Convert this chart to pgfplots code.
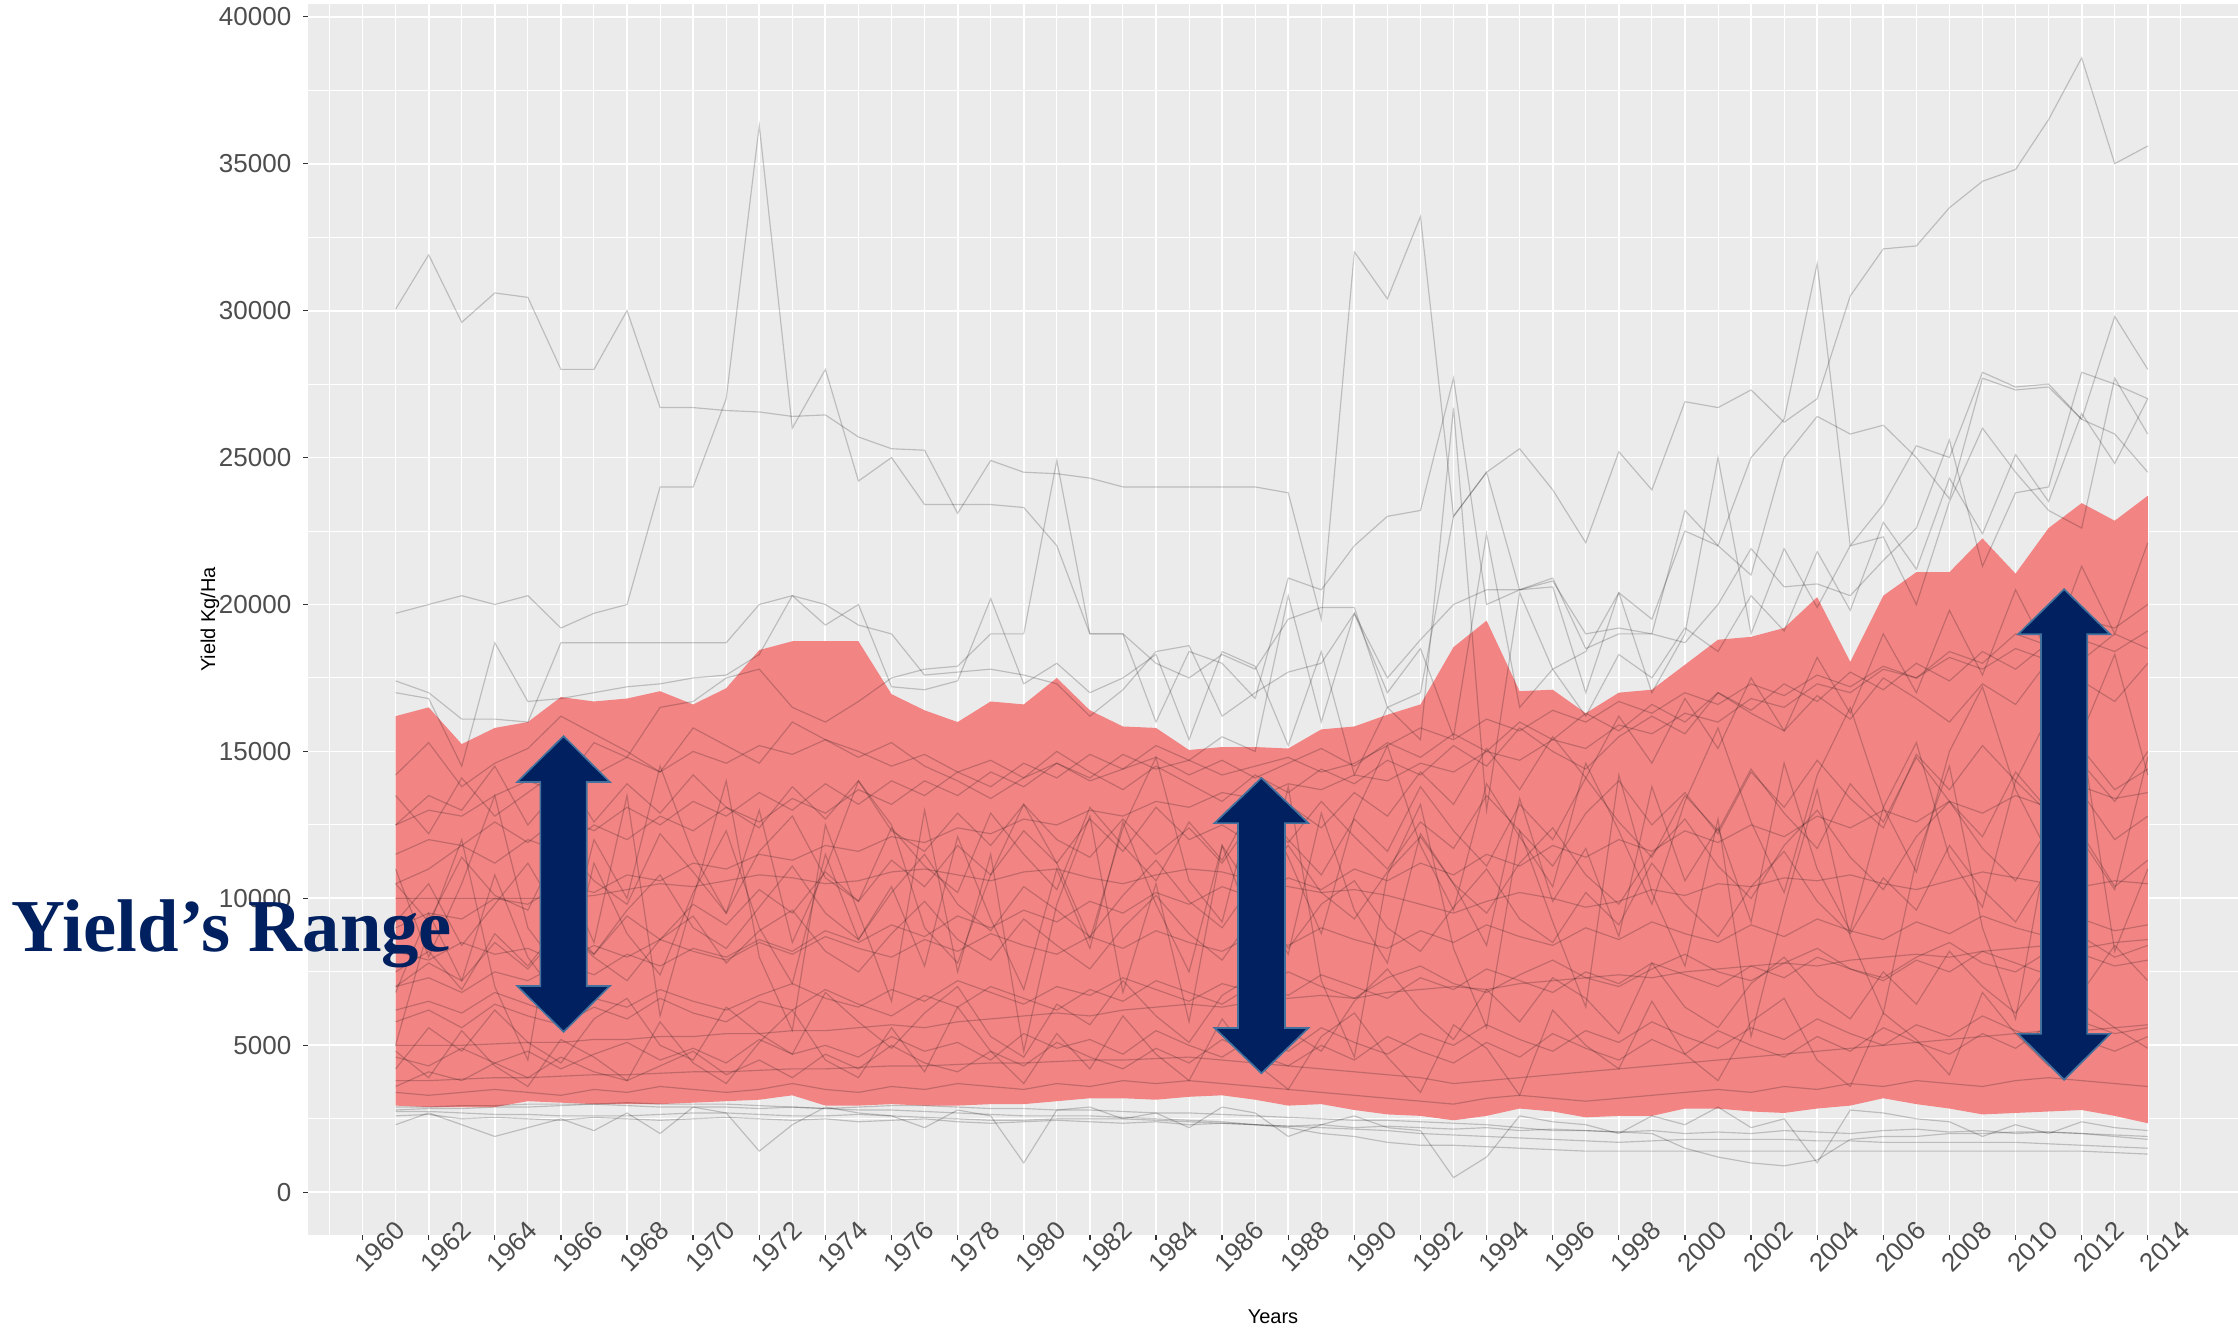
\documentclass[border=0pt]{standalone}
\usepackage{fontspec}
\setmainfont{Liberation Sans}
\newfontfamily\tnr{Liberation Serif}
\usepackage{pgfplots}
\usepackage{pgfplotstable}
\pgfplotsset{compat=1.18}
\usepgfplotslibrary{fillbetween}

\definecolor{panel}{HTML}{EBEBEB}
\definecolor{band}{RGB}{242,132,132}
\definecolor{navy}{HTML}{002060}
\definecolor{arrowedge}{HTML}{41719C}
\definecolor{ticklab}{HTML}{4D4D4D}
\definecolor{tickcol}{HTML}{333333}

\pgfplotstableset{row sep=\\, header=false}

% year, lowest yield, highest yield (the ribbon)
\pgfplotstableread{
1961 2950 16200\\ 1962 2900 16500\\ 1963 2900 15250\\ 1964 2900 15800\\ 1965 3100 16000\\
1966 3050 16850\\ 1967 3000 16700\\ 1968 3000 16800\\ 1969 3000 17050\\ 1970 3050 16600\\
1971 3100 17150\\ 1972 3150 18450\\ 1973 3300 18750\\ 1974 2950 18750\\ 1975 2950 18750\\
1976 3000 16950\\ 1977 2950 16400\\ 1978 2950 16000\\ 1979 3000 16700\\ 1980 3000 16600\\
1981 3100 17500\\ 1982 3200 16400\\ 1983 3200 15850\\ 1984 3150 15800\\ 1985 3250 15050\\
1986 3300 15150\\ 1987 3150 15150\\ 1988 2950 15100\\ 1989 3000 15750\\ 1990 2800 15850\\
1991 2650 16250\\ 1992 2600 16600\\ 1993 2450 18550\\ 1994 2600 19450\\ 1995 2850 17050\\
1996 2750 17100\\ 1997 2550 16300\\ 1998 2600 17000\\ 1999 2600 17100\\ 2000 2850 17950\\
2001 2850 18800\\ 2002 2750 18900\\ 2003 2700 19200\\ 2004 2850 20250\\ 2005 2950 18050\\
2006 3200 20300\\ 2007 3000 21100\\ 2008 2850 21100\\ 2009 2650 22250\\ 2010 2700 21050\\
2011 2750 22600\\ 2012 2800 23450\\ 2013 2600 22850\\ 2014 2350 23700\\
}\band

\begin{document}
\begin{tikzpicture}
\begin{axis}[
  at={(92.4pt,28.8pt)}, anchor=south west,
  width=579pt, height=369.3pt, scale only axis,
  xmin=1958.35, xmax=2016.73, ymin=-1453, ymax=40432,
  axis background/.style={fill=panel},
  axis line style={draw=none},
  xtick={1960,1962,...,2014},
  minor xtick={1959,1961,...,2015},
  ytick={0,5000,...,40000},
  minor ytick={2500,7500,...,37500},
  grid=both,
  major grid style={white, line width=0.55pt},
  minor grid style={white, line width=0.3pt},
  tick pos=left, tick align=outside,
  major tick length=1.5pt, minor tick length=0pt,
  tick style={tickcol, line width=0.4pt},
  /pgf/number format/assume math mode=true,
  /pgf/number format/1000 sep={},
  scaled y ticks=false,
  ticklabel style={font=\fontsize{7.8}{9}\selectfont, text=ticklab},
  xticklabel style={rotate=45, anchor=center, xshift=2.2pt, yshift=-5.1pt},
  yticklabel style={anchor=east},
  xlabel={Years}, ylabel={Yield Kg/Ha},
  xlabel style={at={(axis description cs:0.5,0)}, anchor=center, yshift=-24.6pt, font=\fontsize{6}{7}\selectfont},
  ylabel style={at={(axis description cs:0,0.5)}, anchor=center, yshift=29.4pt, font=\fontsize{6}{7}\selectfont},
  clip mode=individual,
  gl/.style={black, opacity=0.2, line width=0.35pt},
]
\addplot[name path=hi, draw=none, forget plot] table[x index=0, y index=2]{\band};
\addplot[name path=lo, draw=none, forget plot] table[x index=0, y index=1]{\band};
\addplot[fill=band, draw=none] fill between[of=hi and lo];

% countries above the range
\addplot[gl] table[x expr=\coordindex+1961, y index=0]{
30050\\31900\\29600\\30600\\30450\\28000\\28000\\30000\\26700\\26700\\
26600\\26550\\26400\\26450\\25700\\25300\\25250\\23100\\24900\\24500\\
24450\\24300\\24000\\24000\\24000\\24000\\24000\\23800\\19500\\32000\\
30400\\33200\\23000\\24500\\25300\\23900\\22100\\25200\\23900\\26900\\
26700\\27300\\26200\\27000\\30500\\32100\\32200\\33500\\34400\\34800\\
36500\\38600\\35000\\35600\\};
\addplot[gl] table[x expr=\coordindex+1961, y index=0]{
19700\\20000\\20300\\20000\\20300\\19200\\19700\\20000\\24000\\24000\\
27000\\36300\\26000\\28000\\24200\\25000\\23400\\23400\\23400\\23300\\
22000\\19000\\19000\\16000\\18400\\18000\\16800\\20900\\20500\\22000\\
23000\\23200\\27700\\20000\\20500\\20900\\18500\\19000\\19000\\23200\\
22000\\25000\\26300\\31600\\22000\\23400\\25400\\25000\\27900\\27400\\
27500\\26300\\25800\\24500\\};
\addplot[gl] table[x expr=\coordindex+1961, y index=0]{
17400\\17000\\16100\\16100\\16000\\18700\\18700\\18700\\18700\\18700\\
18700\\20000\\20300\\20000\\19300\\19000\\17600\\17700\\17800\\17600\\
17300\\16200\\17100\\18400\\18600\\16200\\17000\\17700\\18000\\19700\\
17500\\18800\\20000\\20500\\20500\\20800\\19000\\19200\\19000\\18700\\
20000\\21900\\20600\\20700\\20300\\21500\\22600\\25600\\21300\\23800\\
24000\\27900\\27500\\27000\\};
\addplot[gl] table[x expr=\coordindex+1961, y index=0]{
17000\\16800\\14500\\18700\\16700\\16800\\17000\\17200\\17300\\17500\\
17600\\18300\\20300\\19300\\20000\\17200\\17100\\17400\\20200\\17300\\
18000\\17000\\17500\\18300\\15400\\18400\\17900\\15200\\18400\\14200\\
16500\\15400\\26700\\13000\\20400\\17800\\18400\\20400\\17000\\19000\\
25000\\19000\\21900\\19900\\22000\\22300\\20000\\23500\\26000\\24500\\
23200\\22600\\27700\\25800\\};
\addplot[gl] table[x expr=\coordindex+1961, y index=0]{
12500\\13500\\13000\\14500\\12500\\13800\\15300\\14800\\16500\\16700\\
17500\\17800\\16500\\16000\\16700\\17500\\17800\\17900\\19000\\19000\\
24900\\19000\\19000\\18000\\17500\\18300\\17800\\19500\\19900\\19900\\
16500\\17000\\23000\\24500\\20500\\20600\\17000\\20400\\19500\\22500\\
22000\\21000\\25000\\26400\\25800\\26100\\25000\\23600\\27700\\27300\\
27400\\26300\\29800\\28000\\};
\addplot[gl] table[x expr=\coordindex+1961, y index=0]{
11500\\12000\\11800\\12600\\11900\\12800\\12300\\13100\\12500\\13300\\
12800\\13600\\13000\\13900\\13200\\14000\\13500\\14300\\13800\\14600\\
14100\\14900\\14400\\15200\\14700\\15500\\15000\\20300\\16000\\19700\\
17000\\18500\\15500\\22400\\16500\\17800\\16200\\18300\\17500\\19200\\
18400\\20300\\19100\\21800\\19800\\22800\\21200\\24300\\22400\\25100\\
23500\\26500\\24800\\27000\\};

% countries below the range
\addplot[gl] table[x expr=\coordindex+1961, y index=0]{
2750\\2750\\2700\\2650\\2650\\2600\\2600\\2600\\2650\\2700\\
2700\\2650\\2600\\2600\\2650\\2600\\2550\\2500\\2450\\2450\\
2500\\2500\\2500\\2450\\2400\\2350\\2300\\2250\\2200\\2150\\
2100\\2000\\1950\\1900\\1850\\1800\\1750\\1700\\1750\\1800\\
1800\\1800\\1800\\1750\\1750\\1700\\1700\\1700\\1700\\1700\\
1650\\1600\\1550\\1500\\};
\addplot[gl] table[x expr=\coordindex+1961, y index=0]{
2300\\2700\\2300\\1900\\2200\\2500\\2100\\2700\\2000\\2900\\
2700\\1400\\2300\\2900\\2700\\2600\\2200\\2800\\2600\\1000\\
2800\\2900\\2500\\2700\\2200\\2900\\2700\\1900\\2300\\2600\\
2200\\2100\\500\\1200\\2600\\2400\\2300\\2000\\2600\\2300\\
2900\\2200\\2500\\1000\\2800\\2700\\2500\\2400\\1900\\2300\\
2000\\2400\\2200\\2100\\};
\addplot[gl] table[x expr=\coordindex+1961, y index=0]{
2900\\2900\\2950\\2950\\3000\\3000\\3000\\2950\\2900\\2900\\
2900\\2850\\2900\\2850\\2800\\2800\\2750\\2700\\2650\\2600\\
2600\\2600\\2550\\2500\\2450\\2400\\2300\\2200\\2000\\1900\\
1700\\1600\\1600\\1550\\1500\\1450\\1400\\1400\\1400\\1400\\
1400\\1400\\1400\\1400\\1400\\1400\\1400\\1400\\1400\\1400\\
1400\\1400\\1350\\1300\\};
\addplot[gl] table[x expr=\coordindex+1961, y index=0]{
2800\\2850\\2850\\2900\\2900\\2950\\3000\\3050\\3000\\3000\\
3000\\2950\\2900\\2850\\2900\\2950\\2950\\2900\\2850\\2850\\
2800\\2800\\2750\\2700\\2700\\2650\\2600\\2550\\2500\\2450\\
2450\\2400\\2350\\2300\\2200\\2100\\2100\\2050\\2000\\1500\\
1200\\1000\\900\\1100\\1800\\1900\\1900\\2000\\2000\\2050\\
2050\\2000\\1900\\1800\\};
\addplot[gl] table[x expr=\coordindex+1961, y index=0]{
2600\\2650\\2500\\2550\\2500\\2450\\2550\\2500\\2450\\2500\\
2550\\2500\\2450\\2500\\2400\\2450\\2500\\2400\\2350\\2400\\
2450\\2400\\2350\\2400\\2300\\2350\\2300\\2250\\2300\\2200\\
2250\\2200\\2150\\2200\\2100\\2150\\2100\\2050\\2100\\2000\\
2050\\2000\\2100\\2050\\2000\\2100\\2150\\2050\\2100\\2000\\
2050\\2000\\1950\\1900\\};

% countries inside the range
\addplot[gl] table[x expr=\coordindex+1961, y index=0]{
10000\\10000\\10000\\10000\\10000\\10000\\10100\\10300\\10500\\10400\\
10600\\10800\\10700\\10500\\10600\\10900\\11000\\10800\\10600\\10900\\
11000\\10700\\10500\\10800\\11000\\10900\\10600\\10400\\10200\\10300\\
10100\\9800\\9500\\9900\\10200\\10000\\9700\\9900\\10300\\10100\\
10500\\10400\\10700\\10600\\10800\\10500\\10300\\10600\\10900\\10700\\
10500\\10400\\10600\\10500\\};
\addplot[gl] table[x expr=\coordindex+1961, y index=0]{
5000\\5000\\5000\\5050\\5100\\5100\\5200\\5200\\5300\\5300\\
5400\\5400\\5500\\5500\\5600\\5700\\5600\\5800\\5900\\6000\\
6100\\6000\\6200\\6300\\6400\\6300\\6500\\6600\\6700\\6600\\
6800\\6900\\7000\\6900\\7100\\7200\\7300\\7400\\7300\\7500\\
7600\\7700\\7800\\7700\\7900\\8000\\8100\\8000\\8200\\8300\\
8400\\8300\\8500\\8600\\};
\addplot[gl] table[x expr=\coordindex+1961, y index=0]{
3800\\3800\\3850\\3900\\3900\\3950\\4000\\4000\\4050\\4100\\
4100\\4150\\4200\\4200\\4250\\4300\\4300\\4350\\4400\\4400\\
4450\\4500\\4500\\4550\\4600\\4500\\4400\\4300\\4200\\4100\\
4000\\3900\\3700\\3800\\3900\\4000\\4100\\4200\\4300\\4400\\
4500\\4600\\4700\\4800\\4900\\5000\\5100\\5200\\5300\\5400\\
5500\\5500\\5600\\5700\\};
\addplot[gl] table[x expr=\coordindex+1961, y index=0]{
7500\\8200\\6900\\8800\\7700\\9100\\8000\\7200\\8600\\9400\\
7800\\8900\\9600\\8200\\7500\\8800\\9900\\8600\\7900\\9300\\
8400\\7600\\9000\\10100\\8800\\7900\\9500\\8300\\9800\\10600\\
9000\\8200\\9700\\11000\\9300\\8500\\10200\\9100\\11200\\9800\\
8700\\10400\\11600\\9900\\8800\\10700\\9600\\11800\\10300\\9200\\
11000\\12200\\10400\\11300\\};
\addplot[gl] table[x expr=\coordindex+1961, y index=0]{
13500\\12200\\14100\\12800\\13600\\14400\\12600\\13900\\12900\\14200\\
13100\\12400\\13800\\12700\\14000\\12300\\11600\\12900\\11800\\13200\\
12000\\11400\\12700\\11500\\12400\\11200\\12800\\11900\\13300\\12100\\
11000\\12600\\11700\\13500\\12300\\11100\\12900\\14000\\12500\\13600\\
12200\\14300\\13100\\14700\\13400\\12400\\14900\\13700\\15200\\14000\\
12900\\14600\\13300\\15000\\};
\addplot[gl] table[x expr=\coordindex+1961, y index=0]{
6200\\6500\\6100\\6800\\6400\\6000\\6600\\6300\\6900\\6500\\
6200\\6700\\7100\\6600\\6300\\6900\\6500\\7200\\6800\\6400\\
7000\\6700\\7300\\6900\\6500\\7100\\6800\\7500\\7000\\6600\\
7300\\7700\\7100\\6800\\7400\\7900\\7300\\7000\\7600\\8100\\
7500\\7200\\7800\\8300\\7600\\7300\\8000\\8500\\7800\\7500\\
8200\\8700\\8000\\8400\\};
\addplot[gl] table[x expr=\coordindex+1961, y index=0]{
4600\\4300\\4900\\4400\\4800\\4200\\4700\\5100\\4500\\4900\\
4400\\5200\\4700\\5000\\4600\\5300\\4800\\5100\\4500\\5400\\
4900\\5200\\4700\\5500\\5000\\4600\\5300\\4800\\5600\\5100\\
4700\\5400\\5000\\5700\\5200\\4800\\5500\\5100\\5800\\5300\\
4900\\5600\\5200\\5900\\5400\\5000\\5700\\5300\\6000\\5500\\
5100\\5800\\5400\\5600\\};
\addplot[gl] table[x expr=\coordindex+1961, y index=0]{
9200\\10500\\8400\\9800\\11200\\9300\\8100\\9600\\10800\\9000\\
8300\\9700\\11100\\9500\\8600\\10200\\11500\\9800\\8900\\10400\\
9600\\8700\\10100\\11300\\9900\\9000\\10600\\11800\\10200\\9300\\
10900\\12100\\10500\\9500\\11200\\12400\\10800\\9800\\11500\\12700\\
11100\\10000\\11800\\13000\\11400\\10300\\12100\\13300\\11700\\10600\\
12400\\13600\\12000\\12800\\};
\addplot[gl] table[x expr=\coordindex+1961, y index=0]{
14200\\15300\\13800\\14600\\15100\\16200\\15600\\15000\\14300\\15800\\
15200\\14600\\16000\\15400\\14800\\15300\\14500\\14000\\13400\\14100\\
15000\\14300\\13700\\14500\\13900\\13300\\14200\\13600\\14400\\13900\\
14700\\14200\\15200\\14500\\15800\\15000\\14400\\15500\\16200\\15600\\
17000\\16300\\15700\\16900\\16100\\17500\\16800\\16000\\17300\\16600\\
18100\\17400\\16700\\18000\\};
\addplot[gl] table[x expr=\coordindex+1961, y index=0]{
8200\\7900\\8500\\8100\\8300\\7800\\8400\\8000\\8600\\8200\\
7900\\8500\\8100\\8700\\8300\\8000\\8600\\8200\\8800\\8400\\
8100\\8700\\8300\\8900\\8500\\8200\\8800\\8400\\9000\\8600\\
8300\\8900\\8500\\9100\\8700\\8400\\9000\\8600\\9200\\8800\\
8500\\9100\\8700\\9300\\8900\\8600\\9200\\8800\\9400\\9000\\
8700\\9300\\8900\\9100\\};
\addplot[gl] table[x expr=\coordindex+1961, y index=0]{
5000\\9000\\12000\\7000\\4500\\11000\\8500\\13500\\6000\\10000\\
14000\\8000\\5500\\12500\\9500\\6500\\13000\\7500\\11500\\4800\\
9800\\12800\\6800\\10500\\5800\\11800\\8800\\13800\\7200\\4600\\
10800\\13200\\8300\\5600\\12300\\9200\\6300\\14200\\10200\\7700\\
12700\\5300\\9700\\13700\\8700\\6100\\11300\\14500\\9000\\5900\\
12000\\15500\\8200\\11000\\};
\addplot[gl] table[x expr=\coordindex+1961, y index=0]{
11000\\8000\\10500\\13500\\9000\\7500\\12000\\10000\\14500\\11500\\
9500\\13000\\8500\\11000\\14000\\12500\\9000\\7800\\10800\\13200\\
11200\\8600\\12400\\14800\\10600\\9200\\13600\\11400\\8800\\12800\\
15200\\11800\\9600\\13900\\12100\\10400\\14600\\12300\\9800\\13300\\
15800\\12600\\10200\\14200\\16500\\13100\\10900\\15000\\17200\\13700\\
11500\\15600\\18300\\14200\\};
\addplot[gl] table[x expr=\coordindex+1961, y index=0]{
5800\\6200\\5600\\6400\\6000\\5700\\6300\\5900\\6600\\6100\\
5800\\6500\\6200\\6900\\6400\\6000\\6700\\6300\\7000\\6600\\
6200\\6900\\6500\\7200\\6800\\6400\\7100\\6700\\7400\\7000\\
6600\\7300\\6900\\7600\\7200\\6800\\7500\\7100\\7800\\7400\\
7000\\7700\\7300\\8000\\7600\\7200\\7900\\7500\\8200\\7800\\
7400\\8100\\7700\\7900\\};
\addplot[gl] table[x expr=\coordindex+1961, y index=0]{
3400\\3300\\3400\\3500\\3400\\3300\\3500\\3400\\3600\\3500\\
3400\\3500\\3700\\3500\\3400\\3600\\3500\\3700\\3600\\3500\\
3700\\3600\\3800\\3700\\3800\\3700\\3600\\3500\\3400\\3300\\
3200\\3100\\3000\\3200\\3300\\3200\\3100\\3200\\3300\\3400\\
3500\\3400\\3600\\3500\\3700\\3600\\3800\\3700\\3600\\3800\\
3900\\3800\\3700\\3600\\};
\addplot[gl] table[x expr=\coordindex+1961, y index=0]{
7000\\7300\\6800\\7500\\7200\\7800\\7400\\8100\\7700\\8300\\
8000\\8600\\8200\\8900\\8500\\9100\\8700\\9400\\9000\\9600\\
9200\\9900\\9500\\10200\\9800\\10400\\10000\\10700\\10300\\11000\\
10600\\11200\\10800\\11500\\11100\\11800\\11400\\12000\\11600\\12300\\
11900\\12500\\12100\\12800\\12400\\13000\\12600\\13300\\12900\\13500\\
13100\\13800\\13400\\13600\\};
\addplot[gl] table[x expr=\coordindex+1961, y index=0]{
12500\\13000\\12800\\13500\\14000\\13600\\14200\\14800\\14300\\15000\\
14600\\15200\\14900\\15400\\15000\\14500\\14900\\14300\\14700\\14100\\
14600\\14000\\14400\\14800\\14200\\14700\\14100\\14600\\15100\\14500\\
15300\\14800\\15600\\15000\\16000\\15400\\16300\\15700\\16600\\16000\\
17000\\16400\\17300\\16700\\17700\\17100\\18000\\17400\\18400\\17800\\
18700\\18100\\19000\\18500\\};
\addplot[gl] table[x expr=\coordindex+1961, y index=0]{
10500\\11000\\11800\\11200\\12000\\11600\\12500\\12000\\12800\\12300\\
13100\\12600\\13400\\12900\\13700\\13200\\14000\\13500\\14300\\13800\\
14600\\14100\\14900\\14400\\14700\\14200\\14500\\14800\\14300\\14600\\
15200\\15800\\15400\\16100\\15700\\16400\\16000\\16700\\16300\\17000\\
16600\\17300\\16900\\17600\\17200\\17900\\17500\\18200\\17800\\18500\\
18100\\18800\\18400\\19100\\};
\addplot[gl] table[x expr=\coordindex+1961, y index=0]{
4200\\5600\\4800\\6200\\5100\\4400\\5900\\6600\\5000\\4500\\
6300\\5400\\4700\\6800\\5800\\4900\\6100\\7000\\5300\\4600\\
6400\\5700\\7200\\6000\\5100\\6700\\7400\\5500\\4800\\6500\\
7600\\6200\\5200\\6900\\5800\\7300\\6600\\5400\\7800\\6300\\
5600\\7100\\8000\\6700\\5900\\7500\\6400\\8200\\7000\\6100\\
7700\\6800\\8400\\7200\\};
\addplot[gl] table[x expr=\coordindex+1961, y index=0]{
10500\\9200\\11400\\10100\\9600\\11900\\10600\\9800\\12200\\10900\\
9500\\11600\\12800\\10700\\9900\\12400\\11100\\10200\\12900\\11500\\
10300\\13100\\11800\\10600\\12600\\11300\\13400\\12000\\10800\\12700\\
11600\\13800\\12300\\11100\\13200\\12000\\14100\\12600\\11400\\13500\\
12300\\14400\\12900\\11700\\13900\\12600\\14800\\13300\\12100\\14300\\
13000\\15100\\13700\\14400\\};
\addplot[gl] table[x expr=\coordindex+1961, y index=0]{
3600\\4100\\3800\\4400\\3900\\4600\\4100\\3800\\4300\\4800\\
4000\\4500\\3900\\4700\\4200\\5000\\4400\\4100\\4800\\4300\\
5100\\4600\\4200\\4900\\4400\\5200\\4700\\4300\\5000\\4500\\
5300\\4800\\4400\\5100\\4600\\5400\\4900\\4500\\5200\\4700\\
5500\\5000\\4600\\5300\\4800\\5600\\5100\\4700\\5400\\4900\\
5700\\5200\\4800\\5300\\};
\addplot[gl] table[x expr=\coordindex+1961, y index=0]{
9000\\9500\\9300\\10000\\9800\\10500\\10200\\10800\\10600\\11200\\
11000\\11500\\11300\\11800\\11600\\12100\\11900\\12400\\12200\\12700\\
12500\\13000\\12800\\13300\\13100\\13600\\13400\\13900\\13700\\14200\\
14000\\14600\\14300\\15000\\14700\\15400\\15100\\15900\\15600\\16300\\
16000\\16800\\16500\\17300\\17000\\17800\\17500\\18400\\18000\\19000\\
18600\\19500\\19200\\20000\\};
\addplot[gl] table[x expr=\coordindex+1961, y index=0]{
7000\\7800\\7200\\8500\\7600\\8900\\8100\\9400\\8600\\9800\\
9100\\10300\\9500\\10900\\9900\\11300\\10400\\11800\\10800\\12300\\
11200\\12700\\11600\\13100\\12000\\12500\\11800\\13200\\12400\\13600\\
12800\\14300\\13200\\15100\\13700\\15500\\14100\\16200\\14600\\16800\\
15100\\17500\\15700\\18200\\16300\\19000\\17000\\19800\\17600\\20500\\
18300\\21300\\19000\\22100\\};
\addplot[gl] table[x expr=\coordindex+1961, y index=0]{
6800\\9500\\7200\\10800\\8000\\6500\\11200\\8800\\7400\\10200\\
12300\\9000\\7100\\11500\\8600\\10400\\7700\\12100\\9300\\6900\\
11000\\8300\\12600\\9800\\7500\\11800\\10100\\8100\\12900\\9600\\
7800\\12200\\10500\\8400\\13400\\9900\\11700\\8700\\13800\\10600\\
12400\\9200\\14600\\11000\\8900\\13100\\15300\\11400\\9700\\14000\\
16200\\12000\\10300\\14800\\};
\addplot[gl] table[x expr=\coordindex+1961, y index=0]{
4800\\3900\\5500\\4300\\3600\\5200\\4600\\3800\\5800\\4400\\
3700\\5100\\6200\\4500\\3900\\5600\\4100\\6300\\4800\\3700\\
5400\\4200\\6000\\4700\\3800\\5900\\4400\\3500\\5300\\6100\\
4600\\3400\\5700\\4900\\3300\\6200\\5000\\4200\\6500\\4700\\
3800\\5800\\6600\\4500\\3600\\6100\\5200\\4000\\6800\\5400\\
4300\\6400\\5600\\4900\\};

% double arrows
\addplot[fill=navy, draw=arrowedge, line width=0.5pt] coordinates {
(1966.08,15520) (1967.48,13960) (1966.78,13960) (1966.78,7020) (1967.48,7020)
(1966.08,5460) (1964.68,7020) (1965.38,7020) (1965.38,13960) (1964.68,13960)} -- cycle;
\addplot[fill=navy, draw=arrowedge, line width=0.5pt] coordinates {
(1987.19,14100) (1988.61,12560) (1987.90,12560) (1987.90,5590) (1988.61,5590)
(1987.19,4050) (1985.77,5590) (1986.48,5590) (1986.48,12560) (1985.77,12560)} -- cycle;
\addplot[fill=navy, draw=arrowedge, line width=0.5pt] coordinates {
(2011.47,20520) (2012.86,18990) (2012.17,18990) (2012.17,5390) (2012.86,5390)
(2011.47,3830) (2010.08,5390) (2010.77,5390) (2010.77,18990) (2010.08,18990)} -- cycle;

\coordinate (rangetext) at (axis cs:1949.37,8187);
\end{axis}
\node[anchor=base west, inner sep=0pt, text=navy,
      font=\tnr\bfseries\fontsize{22.4}{24}\selectfont] at (rangetext) {Yield’s Range};
\pgfresetboundingbox
\useasboundingbox (0,0) rectangle (671.4pt,399.3pt);
\end{tikzpicture}
\end{document}
